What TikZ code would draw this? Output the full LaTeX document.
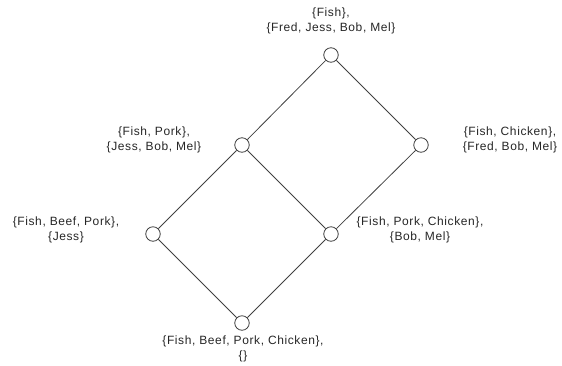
\documentclass[tikz,border=0pt]{standalone}
\usepackage{fontspec}
\setmainfont[LetterSpace=5]{Liberation Sans}
\begin{document}
\begin{tikzpicture}[x=1pt,y=-1pt,
  vtx/.style={circle,draw=black!75,line width=0.8pt,fill=white,minimum size=14.5pt,inner sep=0pt},
  lbl/.style={align=center,font=\fontsize{12}{15}\selectfont,text=black!85,inner sep=0pt},
  edge/.style={draw=black!75,line width=0.8pt}]
\useasboundingbox (0,0) rectangle (562,365);
\node[vtx] (top) at (331,55) {};
\node[vtx] (fp) at (242,145) {};
\node[vtx] (fc) at (421,145) {};
\node[vtx] (fbp) at (153,234) {};
\node[vtx] (fpc) at (331,234) {};
\node[vtx] (bot) at (242,323) {};
\draw[edge] (top) -- (fp);
\draw[edge] (top) -- (fc);
\draw[edge] (fp) -- (fbp);
\draw[edge] (fp) -- (fpc);
\draw[edge] (fc) -- (fpc);
\draw[edge] (fbp) -- (bot);
\draw[edge] (fpc) -- (bot);
\node[lbl] (ltop) at (331,21) {\{Fish\},\\\{Fred, Jess, Bob, Mel\}};
\node[lbl] (lfp) at (154,140) {\{Fish, Pork\},\\\{Jess, Bob, Mel\}};
\node[lbl] (lfc) at (510,140) {\{Fish, Chicken\},\\\{Fred, Bob, Mel\}};
\node[lbl] (lfbp) at (66,230) {\{Fish, Beef, Pork\},\\\{Jess\}};
\node[lbl] (lfpc) at (420,230) {\{Fish, Pork, Chicken\},\\\{Bob, Mel\}};
\node[lbl] (lbot) at (243,349) {\{Fish, Beef, Pork, Chicken\},\\\{\}};
\end{tikzpicture}
\end{document}
